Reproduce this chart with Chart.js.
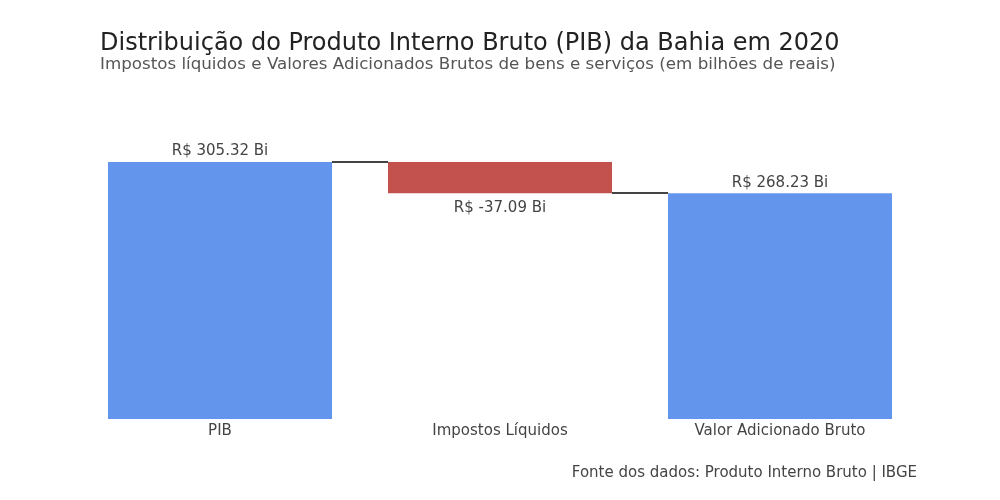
<!DOCTYPE html>
<html>
<head>
<meta charset="utf-8">
<script src="https://cdn.jsdelivr.net/npm/chart.js@4/dist/chart.umd.min.js"></script>
<style>
	html, body { margin: 0; padding: 0; background: #fff; }
	#wrap { width: 1000px; height: 500px; }
</style>
</head>
<body>
<div id="wrap"><canvas id="chart"></canvas></div>
<script>
	// Data (bilhões de reais)
	var categorias = ['PIB', 'Impostos Líquidos', 'Valor Adicionado Bruto'];
	var valores    = [305.32, -37.09, 268.23];
	var totais     = [true, false, true];

	var FONT = "'DejaVu Sans', sans-serif";
	var AZUL = '#6495ed';
	var VERMELHO = '#c3524f';

	// Floating bars built from the values (waterfall)
	var barras = [];
	var acumulado = 0;
	valores.forEach(function (v, i) {
		if (totais[i]) {
			barras.push([0, v]);
			acumulado = v;
		} else {
			barras.push([acumulado + v, acumulado]);
			acumulado += v;
		}
	});

	var cores = valores.map(function (v) { return v < 0 ? VERMELHO : AZUL; });

	function formatar(v) {
		return 'R$ ' + v.toFixed(2) + ' Bi';
	}

	var extras = {
		id: 'extras',
		afterDatasetsDraw: function (chart) {
			var ctx  = chart.ctx;
			var meta = chart.getDatasetMeta(0);
			var x    = chart.scales.x;
			var y    = chart.scales.y;

			ctx.save();

			// Connector lines between bars
			ctx.strokeStyle = '#444';
			ctx.lineWidth = 2;
			var nivel = 0;
			for (var i = 0; i < valores.length - 1; i++) {
				nivel = totais[i] ? valores[i] : nivel + valores[i];
				var a = meta.data[i], b = meta.data[i + 1];
				var py = Math.round(y.getPixelForValue(nivel));
				ctx.beginPath();
				ctx.moveTo(a.x + a.width / 2, py);
				ctx.lineTo(b.x - b.width / 2, py);
				ctx.stroke();
			}

			// Value labels
			ctx.font = '15px ' + FONT;
			ctx.fillStyle = '#444';
			ctx.textAlign = 'center';
			valores.forEach(function (v, i) {
				var el = meta.data[i];
				if (v < 0) {
					ctx.textBaseline = 'top';
					ctx.fillText(formatar(v), el.x, y.getPixelForValue(barras[i][0]) + 7);
				} else {
					ctx.textBaseline = 'bottom';
					ctx.fillText(formatar(v), el.x, y.getPixelForValue(barras[i][1]) - 3);
				}
			});

			// Category labels under the bars
			ctx.textBaseline = 'middle';
			categorias.forEach(function (c, i) {
				ctx.fillText(c, x.getPixelForValue(i), chart.chartArea.bottom + 12);
			});

			// Title, subtitle and source
			ctx.textAlign = 'left';
			ctx.font = '24px ' + FONT;
			ctx.fillStyle = '#222';
			ctx.fillText('Distribuição do Produto Interno Bruto (PIB) da Bahia em 2020', 100, 44);
			ctx.font = '16.7px ' + FONT;
			ctx.fillStyle = '#555';
			ctx.fillText('Impostos líquidos e Valores Adicionados Brutos de bens e serviços (em bilhões de reais)', 100, 65);
			ctx.textAlign = 'right';
			ctx.font = '15px ' + FONT;
			ctx.fillStyle = '#444';
			ctx.fillText('Fonte dos dados: Produto Interno Bruto | IBGE', 917, 473);

			ctx.restore();
		}
	};

	new Chart(document.getElementById('chart'), {
		type: 'bar',
		data: {
			labels: categorias,
			datasets: [{
				data:               barras,
				backgroundColor:    cores,
				borderWidth:        0,
				categoryPercentage: 0.8,
				barPercentage:      1.0,
			}],
		},
		options: {
			responsive:          true,
			maintainAspectRatio: false,
			animation:           false,
			layout: {
				padding: { top: 116, left: 80, right: 80, bottom: 81 },
			},
			scales: {
				x: {
					display: false,
				},
				y: {
					display: false,
					min: 0,
					max: 360,
				},
			},
			plugins: {
				legend:  { display: false },
				tooltip: { enabled: false },
			},
		},
		plugins: [extras],
	});
</script>
</body>
</html>
